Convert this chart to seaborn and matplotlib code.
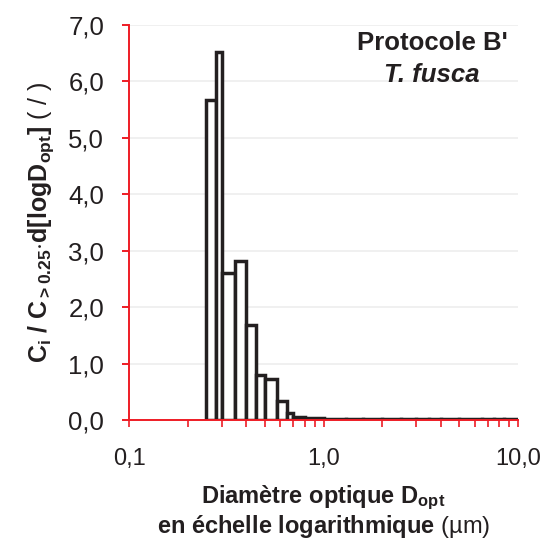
import numpy as np
import pandas as pd
import seaborn as sns
import matplotlib
matplotlib.use("Agg")
import matplotlib.pyplot as plt
from matplotlib.ticker import FuncFormatter, LogLocator, FixedLocator

# channel limits of the optical counter (um) and normalised concentrations
bin_edges = [0.25, 0.28, 0.30, 0.35, 0.40, 0.45, 0.50, 0.58, 0.65, 0.70, 0.80,
             1.0, 1.3, 1.6, 2.0, 2.5, 3.0, 3.5, 4.0, 5.0, 6.5, 7.5, 8.5, 10.0]
conc_norm = [5.67, 6.53, 2.60, 2.82, 1.68, 0.80, 0.72, 0.34, 0.12, 0.05,
             0.03, 0.02, 0.02, 0.01, 0.01, 0.01, 0.01, 0.01, 0.01, 0.01, 0.01, 0.01, 0.01]
x_ticks = [0.1, 1.0, 10.0]
y_ticks = [0, 1, 2, 3, 4, 5, 6, 7]

edges = np.array(bin_edges)
centers = np.sqrt(edges[:-1] * edges[1:])
df = pd.DataFrame({"d": centers, "c": conc_norm})

sns.set_style("white")
plt.rcParams["font.family"] = ["Liberation Sans", "DejaVu Sans"]
plt.rcParams["mathtext.fontset"] = "custom"
plt.rcParams["mathtext.rm"] = "Liberation Sans"
plt.rcParams["mathtext.bf"] = "Liberation Sans:bold"
plt.rcParams["mathtext.it"] = "Liberation Sans:italic"
plt.rcParams["mathtext.sf"] = "Liberation Sans"

red = "#ee1c25"
ink = "#231f20"

fig = plt.figure(figsize=(5.44, 5.42), dpi=100)
ax = fig.add_axes([129 / 544, 1 - 420 / 542, 389 / 544, 395 / 542])

# gridlines first so the bars sit on top
ax.set_axisbelow(True)
ax.yaxis.grid(True, color="#eeeeee", linewidth=1.2)

# bins given in log10 units since seaborn bins the log-transformed data
sns.histplot(data=df, x="d", weights="c", bins=list(np.log10(edges)), log_scale=True,
             stat="count", color="white", edgecolor=ink, linewidth=2.5,
             alpha=1, ax=ax)

ax.set_xlim(0.1, 10)
ax.set_ylim(0, 7)
ax.set_yticks(y_ticks)
ax.xaxis.set_major_locator(FixedLocator(x_ticks))
ax.xaxis.set_minor_locator(LogLocator(base=10, subs=np.arange(2, 10)))
ax.xaxis.set_minor_formatter(FuncFormatter(lambda v, p: ""))
ax.xaxis.set_major_formatter(FuncFormatter(lambda v, p: f"{v:.1f}".replace(".", ",")))
ax.yaxis.set_major_formatter(FuncFormatter(lambda v, p: f"{v:.1f}".replace(".", ",")))

for s in ["top", "right"]:
    ax.spines[s].set_visible(False)
for s in ["left", "bottom"]:
    ax.spines[s].set_color(red)
    ax.spines[s].set_linewidth(1.4)

ax.tick_params(axis="y", which="major", direction="out", length=5, width=1.4,
               color=red, labelsize=18.5, labelcolor=ink, pad=13, left=True)
ax.tick_params(axis="x", which="both", direction="out", length=5, width=1.2,
               color=red, labelsize=17, labelcolor=ink, pad=15, bottom=True)

ax.set_xlabel(r"$\mathbf{Diamètre\ optique\ D_{opt}}$" + "\n"
              + r"$\mathbf{en\ échelle\ logarithmique}$ (µm)",
              fontsize=17, color=ink, labelpad=10, linespacing=1.05)
ax.set_ylabel(r"$\mathbf{C_i\ /\ C_{>0.25}{\cdot}d[logD_{opt}]}$ ( / )",
              fontsize=18, color=ink, labelpad=9)

ax.text(0.779, 0.955, "Protocole B'", transform=ax.transAxes, ha="center",
        va="center", fontsize=18.5, fontweight="bold", color=ink)
ax.text(0.779, 0.873, "T. fusca", transform=ax.transAxes, ha="center",
        va="center", fontsize=18.5, fontweight="bold", fontstyle="italic", color=ink)

fig.savefig("out.png", dpi=100)
